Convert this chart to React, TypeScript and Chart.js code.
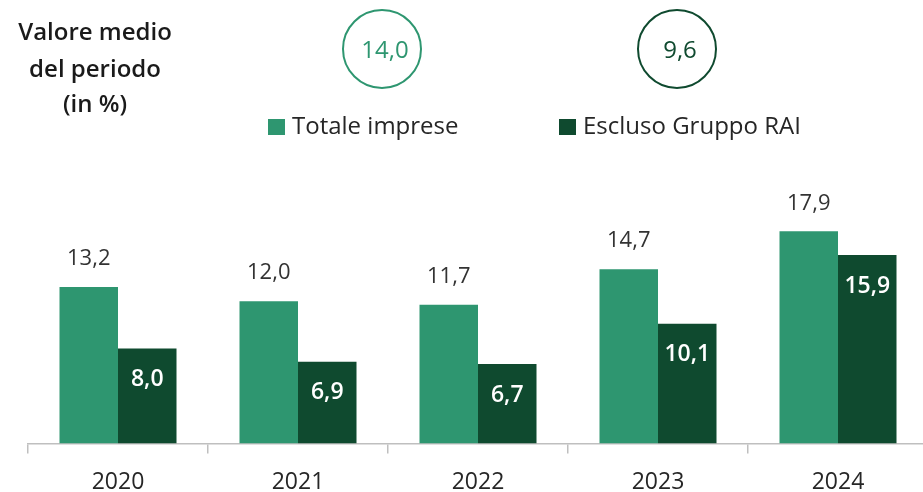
import React, { useEffect, useRef } from "react";
import { Chart, registerables } from "chart.js";

Chart.register(...registerables);

const categories = ["2020", "2021", "2022", "2023", "2024"];
const totaleImprese = [13.2, 12.0, 11.7, 14.7, 17.9];
const esclusoRai = [8.0, 6.9, 6.7, 10.1, 15.9];
const seriesLabels = ["Totale imprese", "Escluso Gruppo RAI"];
const averages = [14.0, 9.6];
const titleLines = ["Valore medio", "del periodo", "(in %)"];

const LIGHT = "#2e9670";
const DARK = "#0f4a2f";
const FONT = "'Open Sans', 'Noto Sans', sans-serif";

const fmt = (v: number) => v.toFixed(1).replace(".", ",");

const decorPlugin = {
  id: "decor",
  afterDatasetsDraw(chart: any) {
    const ctx = chart.ctx;
    ctx.save();
    ctx.textAlign = "center";
    ctx.textBaseline = "middle";
    // data labels
    chart.data.datasets.forEach((ds: any, di: number) => {
      const meta = chart.getDatasetMeta(di);
      meta.data.forEach((el: any, i: number) => {
        const v = ds.data[i];
        if (di === 0) {
          ctx.font = `22px ${FONT}`;
          ctx.fillStyle = "#333333";
          ctx.fillText(fmt(v), el.x, el.y - 28);
        } else {
          ctx.font = `600 23px ${FONT}`;
          ctx.fillStyle = "#ffffff";
          ctx.fillText(fmt(v), el.x, el.y + 31);
        }
      });
    });
    // title
    ctx.fillStyle = "#1a1a1a";
    ctx.font = `600 24px ${FONT}`;
    const ty = [33, 70, 105];
    titleLines.forEach((t, i) => ctx.fillText(t, 95, ty[i]));
    // circles
    const cx = [382, 677];
    const colors = [LIGHT, DARK];
    cx.forEach((x, i) => {
      ctx.beginPath();
      ctx.arc(x, 49, 39, 0, Math.PI * 2);
      ctx.lineWidth = 2;
      ctx.strokeStyle = colors[i];
      ctx.stroke();
      ctx.fillStyle = colors[i];
      ctx.font = `24px ${FONT}`;
      ctx.fillText(fmt(averages[i]), x + 3, 51);
    });
    // legend
    const lx = [268, 559];
    lx.forEach((x, i) => {
      ctx.fillStyle = colors[i];
      ctx.fillRect(x, 119, 17, 16);
      ctx.fillStyle = "#262626";
      ctx.font = `24px ${FONT}`;
      ctx.textAlign = "left";
      ctx.fillText(seriesLabels[i], x + 24, 127);
    });
    ctx.restore();
  },
};

export default function App() {
  const ref = useRef<HTMLCanvasElement | null>(null);
  useEffect(() => {
    if (!ref.current) return;
    const chart = new Chart(ref.current, {
      type: "bar",
      data: {
        labels: categories,
        datasets: [
          { label: seriesLabels[0], data: totaleImprese, backgroundColor: LIGHT },
          { label: seriesLabels[1], data: esclusoRai, backgroundColor: DARK },
        ],
      },
      options: {
        responsive: false,
        animation: false,
        layout: { padding: { left: 28, right: 12, top: 159, bottom: -19 } },
        plugins: { legend: { display: false }, tooltip: { enabled: false } },
        datasets: { bar: { categoryPercentage: 0.65, barPercentage: 1 } },
        scales: {
          x: {
            offset: true,
            grid: {
              offset: true,
              drawOnChartArea: false,
              drawTicks: true,
              tickLength: 10,
              color: "#bfbfbf",
              lineWidth: 1.5,
            },
            border: { display: true, color: "#bfbfbf", width: 1.5 },
            ticks: { color: "#262626", font: { family: FONT, size: 23 }, padding: 15 },
          },
          y: { display: false, min: 0, max: 24 },
        },
      },
      plugins: [decorPlugin],
    });
    return () => chart.destroy();
  }, []);
  return (
    <div style={{ position: "fixed", left: 0, top: 0, width: 923, height: 492, overflow: "hidden", background: "#fff" }}>
      <canvas ref={ref} width={940} height={492} style={{ width: 940, height: 492 }} />
    </div>
  );
}
